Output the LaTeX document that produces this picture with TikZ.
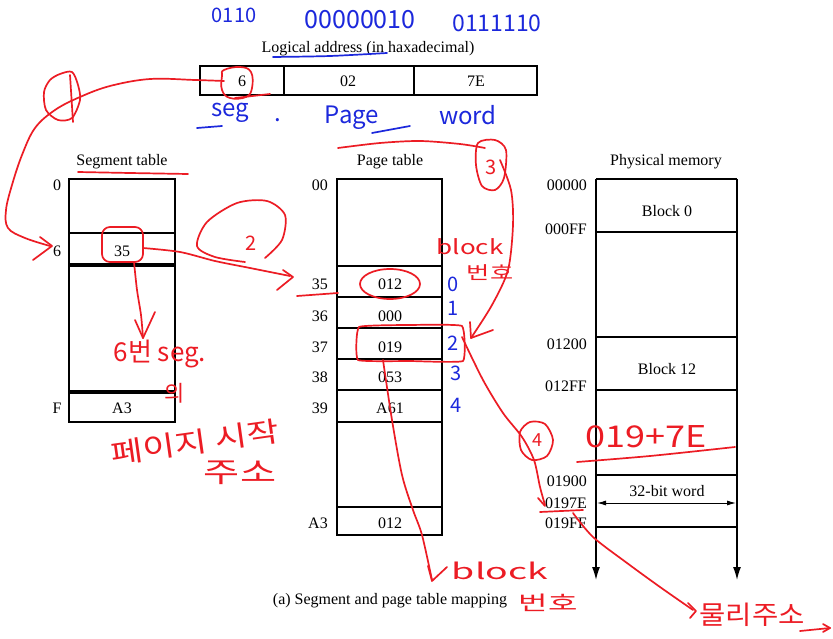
\documentclass[tikz,border=0pt]{standalone}
\usepackage{fontspec}
\setmainfont{Liberation Serif}
\newfontfamily\handfont{Noto Sans CJK KR}
\usetikzlibrary{arrows.meta}
\definecolor{hred}{RGB}{236,28,36}
\definecolor{hblue}{RGB}{28,40,220}
\newcommand\hwide[2]{\scalebox{#1}[1]{#2}}
\begin{document}
\begin{tikzpicture}[x=1pt,y=-1pt,
  txt/.style={font=\fontsize{16}{18}\selectfont, inner sep=0pt, text height=11pt, text depth=0pt},
  box/.style={draw=black, line width=1.3pt},
  rink/.style={draw=hred, line width=1.7pt, line cap=round, line join=round},
  bink/.style={draw=hblue, line width=1.7pt, line cap=round, line join=round},
  rtxt/.style={text=hred, font=\handfont\fontsize{#1}{#1}\selectfont, inner sep=0pt},
  rtxt/.default=20,
  btxt/.style={text=hblue, font=\handfont\fontsize{#1}{#1}\selectfont, inner sep=0pt},
  btxt/.default=20,
  tip/.style={-{Latex[length=13pt,width=8pt]}, line width=1.3pt}
]
\useasboundingbox[fill=white] (0,0) rectangle (833,639);

% ---------- logical address ----------
\node[txt] (title) at (368,47) {Logical address (in haxadecimal)};
\draw[box] (200,66) rectangle (537,95);
\draw[box] (284,66) -- (284,95);
\draw[box] (414,66) -- (414,95);
\node[txt] (la6) at (242,81) {6};
\node[txt] (la02) at (348,81) {02};
\node[txt] (la7e) at (476,81) {7E};

% ---------- segment table ----------
\node[txt] (segh) at (122,160) {Segment table};
\draw[box] (69,179) rectangle (175,264);
\draw[box] (69,233) -- (175,233);
\draw[box] (69,266) rectangle (175,391);
\draw[box] (69,393) rectangle (175,422);
\node[txt] (s0) at (57,185) {0};
\node[txt] (s6) at (57,251) {6};
\node[txt] (sF) at (57,408) {F};
\node[txt] (s35) at (122,251) {35};
\node[txt] (sA3) at (122,408) {A3};

% ---------- page table ----------
\node[txt] (pageh) at (390,160) {Page table};
\draw[box] (337,179) rectangle (442,535);
\foreach \yy in {266,297,328,359,390,422,507} \draw[box] (337,\yy) -- (442,\yy);
\node[txt, anchor=east] (p00l) at (328,185) {00};
\node[txt, anchor=east] (p35l) at (328,284) {35};
\node[txt, anchor=east] (p36l) at (328,316) {36};
\node[txt, anchor=east] (p37l) at (328,347) {37};
\node[txt, anchor=east] (p38l) at (328,377) {38};
\node[txt, anchor=east] (p39l) at (328,408) {39};
\node[txt, anchor=east] (pA3l) at (328,523) {A3};
\node[txt] (p35) at (390,284) {012};
\node[txt] (p36) at (390,316) {000};
\node[txt] (p37) at (390,347) {019};
\node[txt] (p38) at (390,377) {053};
\node[txt] (p39) at (390,408) {A61};
\node[txt] (pA3) at (390,523) {012};

% ---------- physical memory ----------
\node[txt] (memh) at (666,160) {Physical memory};
\draw[box] (596,179) -- (737,179);
\draw[box, tip] (596,179) -- (596,580);
\draw[box, tip] (737,179) -- (737,580);
\foreach \yy in {232,337,390,475,527} \draw[box] (596,\yy) -- (737,\yy);
\node[txt, anchor=east] (m0) at (587,185) {00000};
\node[txt, anchor=east] (m1) at (587,229) {000FF};
\node[txt, anchor=east] (m2) at (587,344) {01200};
\node[txt, anchor=east] (m3) at (587,386) {012FF};
\node[txt, anchor=east] (m4) at (587,481) {01900};
\node[txt, anchor=east] (m5) at (587,503) {0197E};
\node[txt, anchor=east] (m6) at (587,523) {019FF};
\node[txt] (b0) at (667,211) {Block 0};
\node[txt] (b12) at (667,369) {Block 12};
\node[txt] (word) at (667,491) {32-bit word};
\coordinate (wl) at (597,503);
\coordinate (wr) at (736,503);
\draw[line width=1pt, {Latex[length=9pt,width=5pt]}-{Latex[length=9pt,width=5pt]}] (wl) -- (wr);

\node[txt] (cap) at (390,599) {(a) Segment and page table mapping};

% ---------- blue handwriting ----------
\node[btxt=20] (bin1) at (234,15) {0110};
\node[btxt=25] (bin2) at (360,20) {00000010};
\node[btxt=23] (bin3) at (497,23) {0111110};
\draw[bink] plot[smooth] coordinates {(273,57)(330,56)(387,53)};
\node[btxt=24] (bseg) at (230,113) {seg};
\node[btxt=24] (bdot) at (278,120) {.};
\draw[bink] (197,128) -- (222,126);
\node[btxt=24] (bpage) at (352,118) {Page};
\draw[bink] (372,133) -- (410,126);
\node[btxt=24] (bword) at (468,115) {word};
\node[btxt=20] (n0) at (453,284) {0};
\node[btxt=20] (n1) at (453,308) {1};
\node[btxt=20] (n2) at (453,343) {2};
\node[btxt=20] (n3) at (456,373) {3};
\node[btxt=20] (n4) at (456,405) {4};

% ---------- red handwriting ----------
% circle round logical 6, path to segment row 6
\draw[rink] plot[smooth cycle, tension=0.7] coordinates {(224,70)(240,67)(251,72)(252,88)(246,97)(230,98)(222,90)(222,76)};
\draw[rink] (235,98) -- (270,94);
\draw[rink] plot[smooth, tension=0.6] coordinates {(224,81)(195,80)(150,79)(110,86)(80,97)(55,110)(35,128)(22,155)(12,185)(6,210)(8,228)(25,238)(50,246)};
\draw[rink] (40,237) -- (52,246) -- (33,260);
\draw[rink] plot[smooth cycle] coordinates {(60,74)(72,72)(78,85)(80,100)(72,118)(58,120)(46,110)(44,92)(50,80)};
\draw[rink] (70,75) -- (73,122);
\draw[rink] plot[smooth] coordinates {(78,172)(130,173)(188,174)};
% box round 35 and path to page row 35
\draw[rink, rounded corners=8pt] (102,227) rectangle (143,262);
\draw[rink] plot[smooth] coordinates {(143,248)(180,252)(215,261)(250,268)(290,276)};
\draw[rink] (283,270) -- (293,277) -- (277,290);
\draw[rink] plot[smooth] coordinates {(265,258)(282,240)(285,215)(267,201)(237,203)(207,222)(197,246)(215,257)(245,262)};
\node[rtxt=20] (c2) at (251,243) {2};
% arrow down from 35 and note
\draw[rink] plot[smooth] coordinates {(134,262)(137,290)(141,315)(143,338)};
\draw[rink] (135,320) -- (143,338) -- (155,312);
\node[rtxt=26] (note1) at (160,354) {6번 seg.};
\node[rtxt=22] (note2) at (175,393) {의};
\node[rtxt=28, rotate=8] (note3) at (195,442) {\hwide{1.25}{페이지 시작}};
\node[rtxt=28] (note4) at (240,473) {\hwide{1.4}{주소}};
% page table marks
\draw[rink] (297,296) -- (338,293);
\draw[rink] (p35) ellipse [x radius=30, y radius=15];
\draw[rink] plot[smooth cycle, tension=0.2] coordinates {(359,327)(410,325)(462,326)(463,361)(410,361)(358,360)};
% top line, circled 3, arrow to 019
\draw[rink] plot[smooth] coordinates {(338,148)(380,143)(420,141)(460,144)(485,148)};
\draw[rink] plot[smooth cycle] coordinates {(478,143)(495,140)(506,150)(504,178)(495,190)(482,186)(476,165)};
\node[rtxt=20] (c3) at (491,167) {3};
\draw[rink] plot[smooth] coordinates {(500,160)(511,190)(513,225)(508,270)(492,305)(471,338)};
\draw[rink] (470,322) -- (471,338) -- (493,330);
\node[rtxt=20] (blk1) at (470,247) {\hwide{1.3}{block}};
\node[rtxt=18] (num1) at (490,273) {\hwide{1.4}{번호}};
% 019 to 0197E
\draw[rink] plot[smooth] coordinates {(462,337)(483,380)(503,413)(522,437)(534,460)(540,487)(545,505)};
\draw[rink] plot[smooth cycle] coordinates {(530,422)(545,424)(553,440)(547,456)(532,460)(521,450)(520,432)};
\node[rtxt=18] (c4) at (537,440) {4};
\draw[rink] (538,498) -- (545,506);
\node[rtxt=30] (sum) at (646,437) {\hwide{1.2}{019+7E}};
\draw[rink] plot[smooth] coordinates {(577,462)(650,456)(735,447)};
\draw[rink] (540,512) -- (583,510);
% 019 to block 번호
\draw[rink] plot[smooth] coordinates {(383,360)(392,420)(402,475)(413,510)(422,535)(432,580)};
\draw[rink] (447,567) -- (432,581) -- (428,566);
\node[rtxt=22] (blk2) at (500,571) {\hwide{1.7}{block}};
\node[rtxt=20] (num2) at (548,603) {\hwide{1.6}{번호}};
% 019FF to 물리주소
\draw[rink] plot[smooth] coordinates {(573,513)(593,537)(627,563)(660,587)(693,610)};
\draw[rink] (688,603) -- (696,611) -- (690,618);
\node[rtxt=26] (phys) at (752,615) {\hwide{1.1}{물리주소}};
\draw[rink] (800,631) -- (830,628);
\draw[rink] (823,624) -- (830,628) -- (823,632);
\end{tikzpicture}
\end{document}
